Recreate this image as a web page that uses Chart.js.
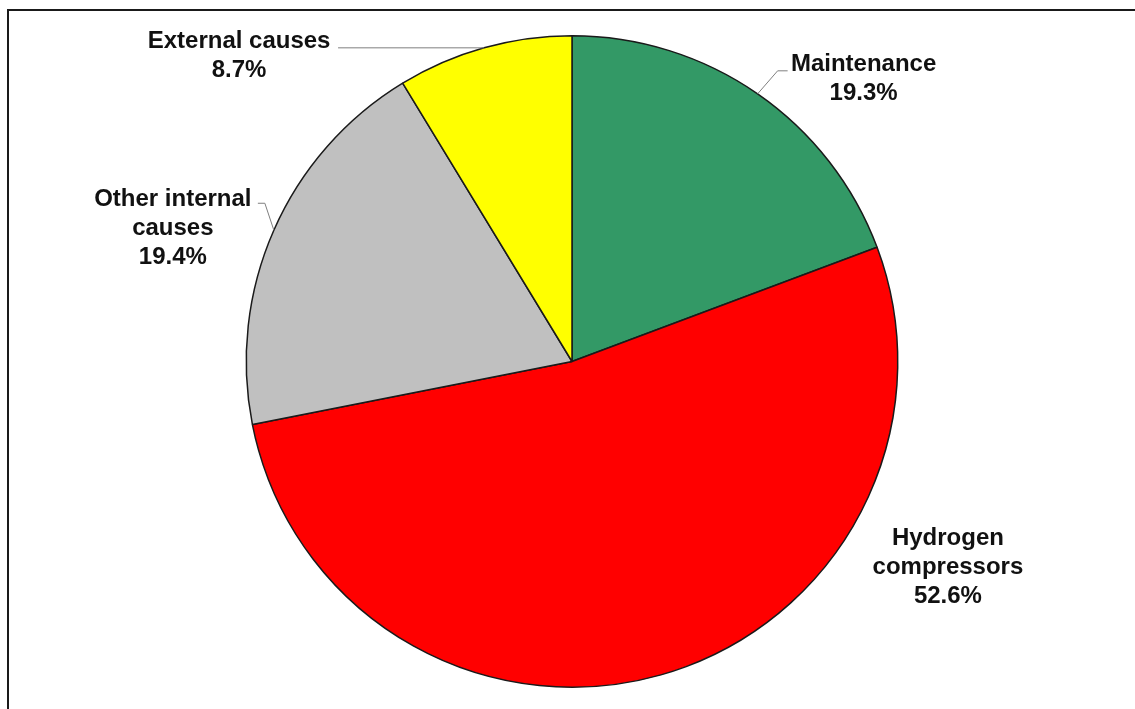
<!DOCTYPE html>
<html>
<head>
<meta charset="utf-8">
<script src="https://cdn.jsdelivr.net/npm/chart.js@4"></script>
<style>
  html, body { margin: 0; padding: 0; background: #fff; overflow: hidden; }
  #wrap { position: relative; width: 1135px; height: 709px; }
  #frame {
    position: absolute; left: 7px; top: 9px; width: 1140px; height: 720px;
    border: 2px solid #1a1a1a; box-sizing: border-box;
  }
  canvas { position: absolute; left: 0; top: 0; }
</style>
</head>
<body>
<div id="wrap">
  <div id="frame"></div>
  <canvas id="pie" width="1135" height="709"></canvas>
</div>
<script>
'use strict';

// Share of incidents by cause (%)
const causes = [['Maintenance'], ['Hydrogen', 'compressors'], ['Other internal', 'causes'], ['External causes']];
const shares = [19.3, 52.6, 19.4, 8.7];
const sliceColors = ['#339966', '#FF0000', '#C0C0C0', '#FFFF00'];

// Label block offsets from each slice's outer midpoint, plus leader line bends
const labelPlacement = [
  { dx: 106, dy: -15, leader: [[20, -23], [30, -23]] },
  { dx: 287, dy: -108, leader: null },
  { dx: -101, dy: -2, leader: [[-9, -27], [-16, -27]] },
  { dx: -245, dy: 8, leader: [[-146, 0]] },
];

const outsideLabels = {
  id: 'outsideLabels',
  afterDatasetsDraw(chart) {
    const c = chart.ctx;
    const meta = chart.getDatasetMeta(0);
    const values = chart.data.datasets[0].data;
    const lineH = 29;

    c.save();
    meta.data.forEach((arc, i) => {
      const { x, y, startAngle, endAngle, outerRadius } = arc.getProps(['x', 'y', 'startAngle', 'endAngle', 'outerRadius'], true);
      const mid = (startAngle + endAngle) / 2;
      const px = x + Math.cos(mid) * outerRadius;
      const py = y + Math.sin(mid) * outerRadius;
      const place = labelPlacement[i];

      // Leader line from the slice edge to the label
      if (place.leader) {
        c.strokeStyle = '#7f7f7f';
        c.lineWidth = 1;
        c.beginPath();
        c.moveTo(px, py);
        for (const [lx, ly] of place.leader) c.lineTo(px + lx, py + ly);
        c.stroke();
      }

      const lines = [...chart.data.labels[i], values[i].toFixed(1) + '%'];
      const cx = px + place.dx;
      const top = py + place.dy - (lines.length - 1) * lineH / 2;
      c.font = 'bold 24px "Liberation Sans", Arial, sans-serif';
      c.fillStyle = '#111';
      c.textAlign = 'center';
      c.textBaseline = 'middle';
      lines.forEach((t, k) => c.fillText(t, cx, top + k * lineH));
    });
    c.restore();
  }
};

new Chart(document.getElementById('pie'), {
  type: 'pie',
  plugins: [outsideLabels],
  data: {
    labels: causes,
    datasets: [{
      data: shares,
      backgroundColor: sliceColors,
      borderColor: '#1a1a1a',
      borderWidth: 1.5,
      hoverOffset: 0,
    }]
  },
  options: {
    responsive: false,
    animation: false,
    devicePixelRatio: 1,
    layout: { padding: { top: 35, bottom: 21, left: 100, right: 91 } },
    plugins: {
      legend: { display: false },
      tooltip: { enabled: false }
    }
  }
});
</script>
</body>
</html>
